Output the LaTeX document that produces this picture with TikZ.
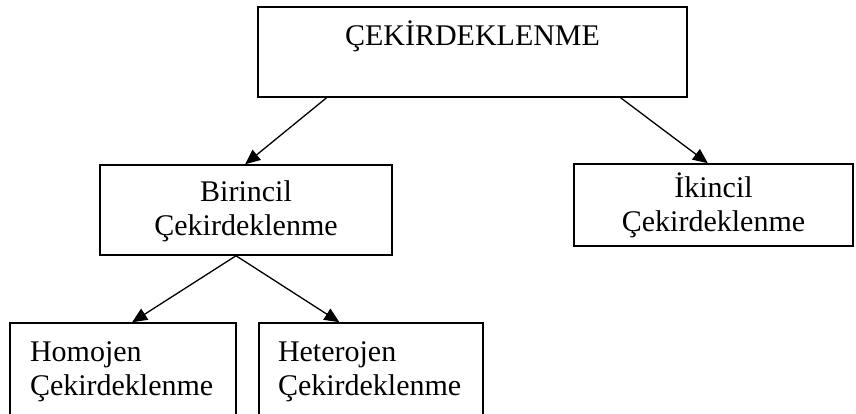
\documentclass[tikz,border=0pt]{standalone}
\usepackage{fontspec}
\setmainfont{Liberation Serif}
\usetikzlibrary{arrows.meta,calc}

\tikzset{
  kutu/.style={draw, line width=1.5pt, rectangle, font=\fontsize{30}{34}\selectfont},
  ok/.style={-{Triangle[length=15pt,width=13pt]}, line width=1.3pt}
}

\begin{document}
\begin{tikzpicture}[x=1pt, y=-1pt]
			\useasboundingbox (0,0) rectangle (856,413);

			\node[kutu, minimum width=429, inner ysep=0, text height=38, text depth=52] (kok) at (472.5, 52) {ÇEKİRDEKLENME};
			\node[kutu, minimum width=292, minimum height=90, align=center] (bir) at (246, 210) {\strut Birincil\\Çekirdeklenme};
			\node[kutu, minimum width=279, minimum height=82, align=center] (iki) at (713.5, 205) {\strut İkincil\\Çekirdeklenme};
			\node[kutu, minimum height=97, inner xsep=20, text width=186, align=left] (hom) at (123, 371.5) {Homojen\\Çekirdeklenme};
			\node[kutu, minimum height=97, inner xsep=19, text width=186, align=left] (het) at (371, 371.5) {Heterojen\\Çekirdeklenme};

			\def\oklar {kok/.161/bir/.497, kok/.844/iki/.48, bir/.466/hom/.54, bir/.466/het/.36}  % list elements
			\foreach \u/\a/\v/\b in \oklar
			{	\draw[ok] ($(\u.south west)!\a!(\u.south east)$) -- ($(\v.north west)!\b!(\v.north east)$);
			}
		\end{tikzpicture}
\end{document}
